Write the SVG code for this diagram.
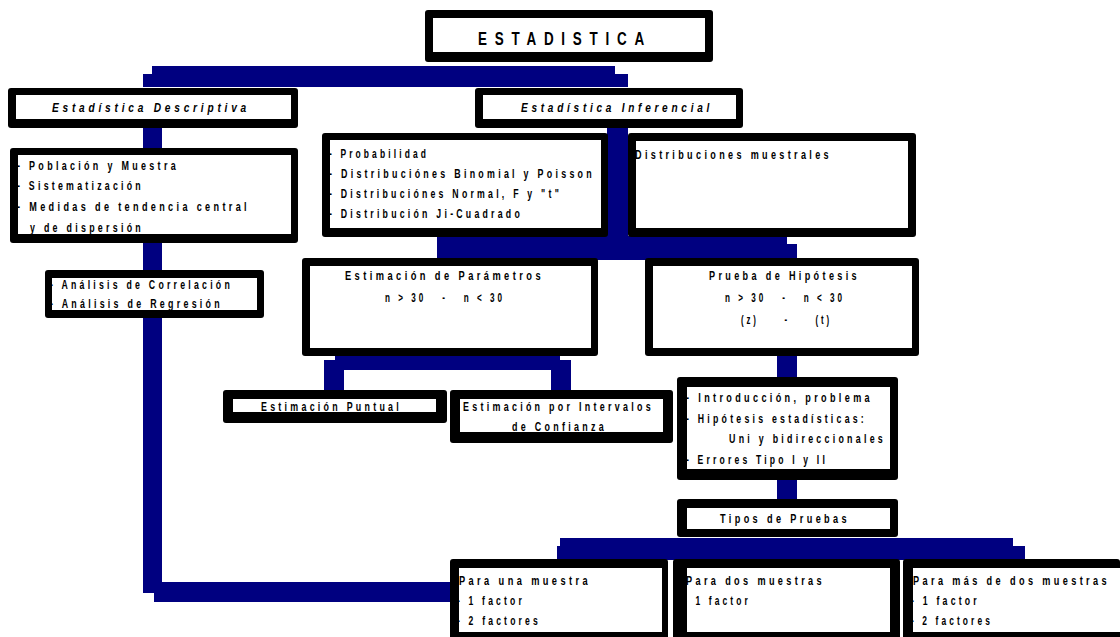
<svg xmlns="http://www.w3.org/2000/svg" width="1120" height="637" viewBox="0 0 1120 637">
<style>
.o{fill:#000}
.i{fill:#fff}
.c{fill:#000080}
.t{font-family:"Liberation Sans",Arial,sans-serif;font-weight:bold;font-size:13.5px;letter-spacing:5px;fill:#000}
.it{font-style:italic}
.h{font-size:19px;letter-spacing:11px}
.p{white-space:pre}
</style>
<rect width="1120" height="637" fill="#fff"/>
<g id="connectors">
<rect class="c" x="152" y="66" width="463" height="12"/>
<rect class="c" x="143" y="74" width="485" height="13"/>
<rect class="c" x="143" y="126" width="19" height="24"/>
<rect class="c" x="143" y="240" width="19" height="32"/>
<rect class="c" x="143" y="316" width="19" height="277"/>
<rect class="c" x="154" y="582" width="299" height="20"/>
<rect class="c" x="607" y="126" width="21" height="114"/>
<rect class="c" x="437" y="236" width="350" height="12"/>
<rect class="c" x="437" y="244" width="360" height="16"/>
<rect class="c" x="335" y="354" width="225" height="8"/>
<rect class="c" x="324" y="360" width="247" height="10"/>
<rect class="c" x="324" y="366" width="20" height="26"/>
<rect class="c" x="551" y="366" width="20" height="26"/>
<rect class="c" x="777" y="354" width="20" height="24"/>
<rect class="c" x="777" y="476" width="20" height="24"/>
<rect class="c" x="560" y="538" width="453" height="12"/>
<rect class="c" x="557" y="546" width="468" height="14"/>
</g>
<g id="n-estadistica">
<rect class="o" x="425" y="10" width="288" height="52" rx="3"/>
<rect class="i" x="433" y="18" width="272" height="34"/>
<g transform="scale(0.7,1)">
<text class="t h" x="682.86" y="45" textLength="248.57" lengthAdjust="spacingAndGlyphs">ESTADISTICA</text>
</g>
</g>
<g id="n-descriptiva">
<rect class="o" x="8" y="88" width="290" height="40" rx="3"/>
<rect class="i" x="16" y="95" width="275" height="24"/>
<g transform="scale(0.7,1)">
<text class="t it" x="74.29" y="112" textLength="282.86" lengthAdjust="spacingAndGlyphs">Estadística Descriptiva</text>
</g>
</g>
<g id="n-inferencial">
<rect class="o" x="475" y="88" width="268" height="40" rx="3"/>
<rect class="i" x="483" y="95" width="253" height="24"/>
<g transform="scale(0.7,1)">
<text class="t it" x="744.29" y="112" textLength="274.29" lengthAdjust="spacingAndGlyphs">Estadística Inferencial</text>
</g>
</g>
<g id="n-poblacion">
<rect class="o" x="10" y="148" width="288" height="95" rx="3"/>
<rect class="i" x="18" y="155" width="273" height="79"/>
<g transform="scale(0.7,1)">
<text class="t" x="24.29" y="170" textLength="231.43" lengthAdjust="spacingAndGlyphs">- Población y Muestra</text>
<text class="t" x="24.29" y="190" textLength="181.43" lengthAdjust="spacingAndGlyphs">- Sistematización</text>
<text class="t" x="24.29" y="211" textLength="332.86" lengthAdjust="spacingAndGlyphs">- Medidas de tendencia central</text>
<text class="t" x="42.86" y="232" textLength="162.86" lengthAdjust="spacingAndGlyphs">y de dispersión</text>
</g>
</g>
<g id="n-analisis">
<rect class="o" x="45" y="270" width="219" height="48" rx="3"/>
<rect class="i" x="52" y="278" width="205" height="32"/>
<g transform="scale(0.7,1)">
<text class="t" x="71.43" y="289" textLength="261.43" lengthAdjust="spacingAndGlyphs">- Análisis de Correlación</text>
<text class="t" x="71.43" y="308" textLength="247.14" lengthAdjust="spacingAndGlyphs">- Análisis de Regresión</text>
</g>
</g>
<g id="n-probabilidad">
<rect class="o" x="322" y="133" width="286" height="104" rx="3"/>
<rect class="i" x="330" y="140" width="271" height="88"/>
<g transform="scale(0.7,1)">
<text class="t" x="470" y="158" textLength="142.86" lengthAdjust="spacingAndGlyphs">- Probabilidad</text>
<text class="t" x="470" y="178" textLength="380" lengthAdjust="spacingAndGlyphs">- Distribuciónes Binomial y Poisson</text>
<text class="t" x="470" y="198" textLength="332.86" lengthAdjust="spacingAndGlyphs">- Distribuciónes Normal, F y "t"</text>
<text class="t" x="470" y="218" textLength="277.14" lengthAdjust="spacingAndGlyphs">- Distribución Ji-Cuadrado</text>
</g>
</g>
<g id="n-muestrales">
<rect class="o" x="628" y="133" width="288" height="104" rx="3"/>
<rect class="i" x="636" y="141" width="272" height="87"/>
<g transform="scale(0.7,1)">
<text class="t" x="907.14" y="159" textLength="281.43" lengthAdjust="spacingAndGlyphs">Distribuciones muestrales</text>
</g>
</g>
<g id="n-estimacion">
<rect class="o" x="302" y="258" width="296" height="98" rx="3"/>
<rect class="i" x="310" y="266" width="281" height="82"/>
<g transform="scale(0.7,1)">
<text class="t" x="492.86" y="280" textLength="284.29" lengthAdjust="spacingAndGlyphs">Estimación de Parámetros</text>
<text class="t p" x="550" y="302" textLength="171.43" lengthAdjust="spacingAndGlyphs" xml:space="preserve">n &gt; 30   -   n &lt; 30</text>
</g>
</g>
<g id="n-prueba">
<rect class="o" x="645" y="258" width="274" height="98" rx="3"/>
<rect class="i" x="653" y="266" width="259" height="82"/>
<g transform="scale(0.7,1)">
<text class="t" x="1012.86" y="280" textLength="215.71" lengthAdjust="spacingAndGlyphs">Prueba de Hipótesis</text>
<text class="t p" x="1035.71" y="302" textLength="171.43" lengthAdjust="spacingAndGlyphs" xml:space="preserve">n &gt; 30   -   n &lt; 30</text>
<text class="t p" x="1058.57" y="324" textLength="130" lengthAdjust="spacingAndGlyphs" xml:space="preserve">(z)     -     (t)</text>
</g>
</g>
<g id="n-puntual">
<rect class="o" x="223" y="390" width="224" height="33" rx="3"/>
<rect class="i" x="233" y="399" width="203" height="13"/>
<g transform="scale(0.7,1)">
<text class="t" x="372.86" y="411" textLength="201.43" lengthAdjust="spacingAndGlyphs">Estimación Puntual</text>
</g>
</g>
<g id="n-intervalos">
<rect class="o" x="450" y="390" width="223" height="53" rx="3"/>
<rect class="i" x="460" y="399" width="203" height="33"/>
<g transform="scale(0.7,1)">
<text class="t" x="661.43" y="411" textLength="272.86" lengthAdjust="spacingAndGlyphs">Estimación por Intervalos</text>
<text class="t" x="731.43" y="431" textLength="135.71" lengthAdjust="spacingAndGlyphs">de Confianza</text>
</g>
</g>
<g id="n-introduccion">
<rect class="o" x="677" y="377" width="221" height="103" rx="3"/>
<rect class="i" x="687" y="387" width="203" height="82"/>
<g transform="scale(0.7,1)">
<text class="t" x="980" y="402" textLength="267.14" lengthAdjust="spacingAndGlyphs">- Introducción, problema</text>
<text class="t" x="980" y="423" textLength="258.57" lengthAdjust="spacingAndGlyphs">- Hipótesis estadísticas:</text>
<text class="t" x="1041.43" y="443" textLength="224.29" lengthAdjust="spacingAndGlyphs">Uni y bidireccionales</text>
<text class="t" x="980" y="464" textLength="202.86" lengthAdjust="spacingAndGlyphs">- Errores Tipo I y II</text>
</g>
</g>
<g id="n-tipos">
<rect class="o" x="677" y="499" width="221" height="38" rx="3"/>
<rect class="i" x="687" y="508" width="203" height="21"/>
<g transform="scale(0.7,1)">
<text class="t" x="1028.57" y="523" textLength="185.71" lengthAdjust="spacingAndGlyphs">Tipos de Pruebas</text>
</g>
</g>
<g id="n-una">
<rect class="o" x="450" y="559" width="218" height="80" rx="3"/>
<rect class="i" x="459" y="568" width="203" height="64"/>
<g transform="scale(0.7,1)">
<text class="t" x="655.71" y="585" textLength="188.57" lengthAdjust="spacingAndGlyphs">Para una muestra</text>
<text class="t" x="652.86" y="605" textLength="97.14" lengthAdjust="spacingAndGlyphs">- 1 factor</text>
<text class="t" x="652.86" y="625" textLength="120" lengthAdjust="spacingAndGlyphs">- 2 factores</text>
</g>
</g>
<g id="n-dos">
<rect class="o" x="673" y="559" width="227" height="80" rx="3"/>
<rect class="i" x="687" y="568" width="203" height="64"/>
<g transform="scale(0.7,1)">
<text class="t" x="980" y="585" textLength="198.57" lengthAdjust="spacingAndGlyphs">Para dos muestras</text>
<text class="t" x="977.14" y="605" textLength="95.71" lengthAdjust="spacingAndGlyphs">- 1 factor</text>
</g>
</g>
<g id="n-mas">
<rect class="o" x="903" y="559" width="217" height="80" rx="3"/>
<rect class="i" x="913" y="568" width="207" height="64"/>
<g transform="scale(0.7,1)">
<text class="t" x="1304.29" y="585" textLength="281.43" lengthAdjust="spacingAndGlyphs">Para más de dos muestras</text>
<text class="t" x="1301.43" y="605" textLength="98.57" lengthAdjust="spacingAndGlyphs">- 1 factor</text>
<text class="t" x="1301.43" y="625" textLength="117.14" lengthAdjust="spacingAndGlyphs">- 2 factores</text>
</g>
</g>
</svg>
